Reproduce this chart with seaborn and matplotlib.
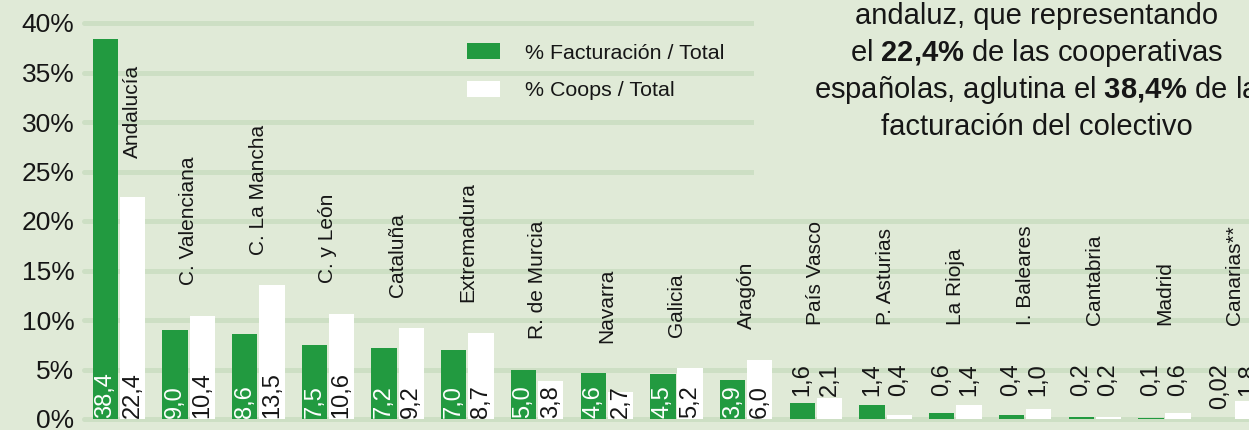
import matplotlib
matplotlib.use("Agg")
import matplotlib.pyplot as plt
import matplotlib.ticker as mtick
from matplotlib.patches import Rectangle
import seaborn as sns
import pandas as pd

# ---- datos ----
regions = ["Andalucía", "C. Valenciana", "C. La Mancha", "C. y León", "Cataluña",
           "Extremadura", "R. de Murcia", "Navarra", "Galicia", "Aragón",
           "País Vasco", "P. Asturias", "La Rioja", "I. Baleares", "Cantabria",
           "Madrid", "Canarias**"]
facturacion = [38.4, 9.0, 8.6, 7.5, 7.2, 7.0, 5.0, 4.6, 4.5, 3.9,
               1.6, 1.4, 0.6, 0.4, 0.2, 0.1, 0.02]
coops = [22.4, 10.4, 13.5, 10.6, 9.2, 8.7, 3.8, 2.7, 5.2, 6.0,
         2.1, 0.4, 1.4, 1.0, 0.2, 0.6, 1.8]
series = ["% Facturación / Total", "% Coops / Total"]
yticks = [0, 5, 10, 15, 20, 25, 30, 35, 40]

BG = "#e0ead7"
GRID = "#cddfc4"
GREEN = "#229a40"
INK = "#161616"

sns.set_style("whitegrid", {"axes.facecolor": BG, "figure.facecolor": BG,
                            "grid.color": GRID, "axes.edgecolor": BG})
plt.rcParams["font.family"] = ["Liberation Sans", "DejaVu Sans"]
plt.rcParams["mathtext.fontset"] = "custom"
plt.rcParams["mathtext.rm"] = "Liberation Sans"
plt.rcParams["mathtext.bf"] = "Liberation Sans:bold"

df = pd.DataFrame({
    "region": regions * 2,
    "serie": [series[0]] * len(regions) + [series[1]] * len(regions),
    "valor": facturacion + coops,
})

W, H = 1249, 430
fig = plt.figure(figsize=(W / 100, H / 100), dpi=100)
ax = fig.add_axes([84 / W, (H - 419) / H, 1 - 84 / W, (419 - 23) / H])

sns.barplot(data=df, x="region", y="valor", hue="serie", order=regions,
            hue_order=series, palette={series[0]: GREEN, series[1]: "white"},
            width=0.78, gap=0.07, linewidth=0, saturation=1, ax=ax, zorder=2)

ax.set_xlim(-0.5, (W - 119) / 69.7)
ax.set_ylim(0, 40)
ax.set_yticks(yticks)
ax.yaxis.set_major_formatter(mtick.PercentFormatter(decimals=0))
ax.tick_params(axis="y", length=0, pad=7, labelsize=19, labelcolor=INK)
ax.tick_params(axis="x", bottom=False, labelbottom=False)
ax.set_xlabel("")
ax.set_ylabel("")
ax.xaxis.grid(False)
ax.yaxis.grid(True, color=GRID, linewidth=3.6)
ax.set_axisbelow(True)
for gl in ax.get_ygridlines():
    gl.set_clip_on(False)
for s in ax.spines.values():
    s.set_visible(False)

# fondo del recuadro de texto (tapa las líneas superiores)
ax.add_patch(Rectangle((0.575, 22.5 / 40), 0.5, 0.6, transform=ax.transAxes,
                       facecolor=BG, edgecolor="none", zorder=1, clip_on=False))


def fmt(v):
    s = f"{v:.2f}" if v < 0.1 else f"{v:.1f}"
    return s.replace(".", ",")


# etiquetas de valor
green_bars, white_bars = ax.containers[0], ax.containers[1]
for i in range(len(regions)):
    for bar, val, col in ((green_bars[i], facturacion[i], "white"),
                          (white_bars[i], coops[i], INK)):
        xc = bar.get_x() + bar.get_width() / 2
        if i < 10:
            ax.text(xc, 0.15, fmt(val), rotation=90, ha="center", va="bottom",
                    fontsize=17, color=col, zorder=3)
        else:
            ax.text(xc, 5.65, fmt(val), rotation=90, ha="center", va="top",
                    fontsize=17, color=INK, zorder=3)

# nombres de región
for i, name in enumerate(regions):
    if i == 0:
        wb = white_bars[0]
        xc = wb.get_x() + wb.get_width() / 2
        y = coops[0] + 4.0
    elif i < 10:
        xc = i
        y = max(facturacion[i], coops[i]) + 3.1
    else:
        xc = i
        y = 9.5
    ax.text(xc, y, name, rotation=90, ha="center", va="bottom",
            fontsize=15, color=INK, zorder=3)

# leyenda
handles, labels = ax.get_legend_handles_labels()
leg = ax.legend(handles, labels, loc="upper left",
                bbox_to_anchor=(467 / W, 1 - 43 / H), bbox_transform=fig.transFigure,
                frameon=False, fontsize=15.4, handlelength=1.55, handleheight=0.8,
                handletextpad=1.15, labelspacing=0.85, borderpad=0, borderaxespad=0)
for t in leg.get_texts():
    t.set_color(INK)

# texto destacado
cx = 1037 / W
lines = ["andaluz, que representando",
         r"el $\mathbf{22{,}4\%}$ de las cooperativas",
         r"españolas, aglutina el $\mathbf{38{,}4\%}$ de la",
         "facturación del colectivo"]
baselines = [24, 61, 98, 135]
for txt, b in zip(lines, baselines):
    fig.text(cx, 1 - b / H, txt, ha="center", va="baseline", fontsize=21, color=INK)

fig.savefig("out.png", dpi=100, facecolor=BG)
